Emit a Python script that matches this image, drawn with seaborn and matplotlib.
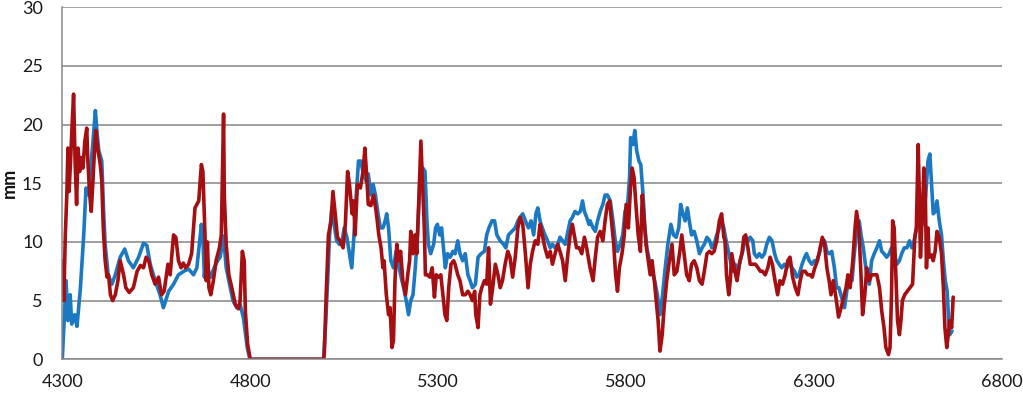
# Two displacement traces (mm) along position 4300-6800
import pandas as pd
import matplotlib
matplotlib.use("Agg")
import matplotlib.pyplot as plt
import seaborn as sns

# blue trace
blue_x = [4300, 4304, 4310, 4315, 4321, 4325, 4333, 4339, 4348, 4357, 4363, 4370, 4374, 4381, 4388,
          4392, 4397, 4405, 4410, 4414, 4422, 4432, 4441, 4454, 4466, 4476, 4489, 4503, 4516, 4525,
          4534, 4547, 4560, 4569, 4583, 4596, 4609, 4623, 4636, 4649, 4658, 4665, 4670, 4674, 4678,
          4683, 4689, 4695, 4704, 4713, 4720, 4724, 4729, 4736, 4745, 4754, 4764, 4773, 4782, 4792,
          4799, 4995, 5000, 5006, 5011, 5017, 5023, 5030, 5037, 5043, 5050, 5057, 5064, 5070, 5075,
          5082, 5088, 5094, 5101, 5108, 5114, 5121, 5127, 5133, 5139, 5146, 5153, 5159, 5163, 5168,
          5174, 5181, 5188, 5194, 5200, 5208, 5215, 5221, 5227, 5233, 5239, 5245, 5252, 5259, 5265,
          5270, 5274, 5280, 5288, 5293, 5298, 5304, 5309, 5314, 5319, 5325, 5332, 5339, 5345, 5352,
          5358, 5365, 5372, 5379, 5385, 5391, 5399, 5406, 5414, 5423, 5429, 5435, 5443, 5450, 5456,
          5465, 5474, 5480, 5487, 5496, 5505, 5512, 5518, 5525, 5532, 5540, 5547, 5554, 5560, 5565,
          5571, 5577, 5584, 5591, 5598, 5604, 5611, 5618, 5624, 5631, 5638, 5645, 5651, 5657, 5664,
          5671, 5678, 5684, 5689, 5695, 5701, 5704, 5712, 5718, 5724, 5731, 5738, 5744, 5750, 5758,
          5765, 5771, 5777, 5784, 5791, 5797, 5804, 5809, 5812, 5818, 5823, 5828, 5834, 5839, 5845,
          5850, 5855, 5862, 5869, 5876, 5883, 5890, 5897, 5904, 5911, 5919, 5926, 5933, 5940, 5945,
          5951, 5957, 5963, 5968, 5974, 5981, 5988, 5995, 6002, 6008, 6015, 6022, 6028, 6034, 6041,
          6048, 6054, 6060, 6063, 6070, 6077, 6083, 6090, 6097, 6103, 6110, 6117, 6124, 6130, 6137,
          6141, 6148, 6154, 6161, 6168, 6174, 6181, 6188, 6195, 6201, 6207, 6214, 6221, 6228, 6234,
          6241, 6248, 6254, 6260, 6268, 6275, 6280, 6287, 6294, 6301, 6307, 6314, 6321, 6328, 6334,
          6340, 6347, 6354, 6360, 6366, 6373, 6381, 6387, 6393, 6401, 6407, 6414, 6420, 6425, 6431,
          6440, 6447, 6453, 6460, 6467, 6474, 6480, 6486, 6493, 6500, 6506, 6512, 6520, 6527, 6533,
          6540, 6547, 6554, 6560, 6566, 6571, 6577, 6584, 6591, 6597, 6603, 6608, 6612, 6617, 6622,
          6627, 6633, 6639, 6644, 6649, 6654, 6658, 6661, 6667]
blue_mm = [0, 2.7, 6.7, 3.3, 5.5, 3.0, 3.8, 2.8, 6.0, 10.6, 14.6, 14.0, 15.8, 18.3, 21.2,
           19.5, 17.8, 16.9, 12.6, 9.8, 7.2, 6.4, 7.2, 8.7, 9.4, 8.4, 7.8, 8.7, 9.9, 9.7,
           8.1, 6.7, 5.5, 4.4, 5.8, 6.4, 7.2, 7.5, 7.7, 7.2, 7.8, 10.0, 11.5, 10.3, 7.0,
           8.9, 7.5, 7.0, 7.8, 8.4, 8.7, 9.5, 10.5, 7.8, 6.4, 5.0, 4.4, 4.7, 3.5, 1.0,
           0, 0, 2.7, 6.7, 10.6, 12.9, 11.5, 10.1, 9.8, 9.8, 11.2, 10.4, 9.0, 7.8, 10.1,
           14.0, 16.9, 16.9, 15.8, 15.2, 15.8, 14.0, 14.9, 14.0, 12.6, 11.2, 11.2, 11.8, 12.4, 11.2,
           8.4, 7.8, 9.2, 8.1, 7.2, 6.1, 5.0, 3.8, 5.0, 5.5, 7.8, 10.6, 15.8, 16.3, 16.0,
           11.8, 9.8, 9.0, 9.8, 11.2, 11.5, 10.6, 11.2, 9.5, 7.8, 9.0, 8.7, 9.2, 9.0, 10.1,
           9.0, 8.4, 9.0, 7.2, 6.7, 6.1, 6.4, 8.7, 9.0, 9.2, 10.6, 11.2, 11.8, 11.8, 10.6,
           10.1, 9.8, 9.5, 10.6, 10.9, 11.2, 11.8, 12.1, 12.4, 11.8, 11.2, 11.8, 10.6, 12.4, 12.9,
           11.8, 11.2, 10.6, 10.1, 9.5, 9.8, 9.5, 9.8, 10.4, 10.1, 9.8, 10.9, 11.8, 12.1, 12.6,
           12.4, 12.6, 13.5, 12.6, 12.1, 11.5, 11.8, 11.2, 10.9, 11.8, 12.6, 13.2, 14.0, 14.0, 13.5,
           11.8, 10.1, 9.2, 9.8, 10.6, 12.6, 13.2, 15.5, 18.9, 18.3, 19.5, 17.8, 16.9, 16.6, 14.0,
           11.2, 9.5, 8.4, 7.5, 6.7, 5.5, 3.8, 5.5, 7.8, 9.8, 11.5, 10.6, 10.4, 11.2, 13.2,
           12.4, 11.8, 12.9, 11.8, 10.6, 10.9, 10.1, 9.0, 9.5, 9.8, 10.4, 10.1, 9.5, 9.8, 10.6,
           11.2, 11.8, 11.2, 10.6, 9.5, 8.4, 7.5, 8.1, 7.2, 8.4, 9.2, 10.4, 10.1, 10.4, 10.1,
           9.0, 8.7, 9.0, 8.7, 9.0, 9.8, 10.4, 10.1, 9.0, 8.4, 8.1, 7.8, 8.1, 7.8, 8.4,
           7.8, 7.5, 7.0, 7.2, 8.1, 8.7, 9.0, 8.4, 8.1, 8.4, 8.4, 9.0, 10.1, 10.1, 9.2,
           9.0, 9.2, 7.8, 6.1, 6.1, 5.3, 4.4, 5.8, 6.7, 6.7, 9.0, 11.2, 11.8, 10.6, 9.5,
           7.2, 6.4, 8.4, 9.0, 9.5, 10.1, 9.2, 9.0, 8.7, 9.0, 9.5, 9.2, 8.1, 8.4, 9.0,
           9.5, 9.5, 10.1, 9.5, 10.1, 10.9, 11.8, 11.2, 11.8, 14.0, 16.9, 17.5, 15.2, 12.4, 12.6,
           13.5, 11.8, 10.6, 8.4, 6.7, 5.8, 3.3, 2.1, 2.4]

# red trace
red_x = [4300, 4301, 4304, 4308, 4312, 4315, 4318, 4322, 4325, 4330, 4334, 4338, 4342, 4346, 4351,
         4355, 4360, 4365, 4368, 4373, 4377, 4382, 4386, 4389, 4395, 4401, 4405, 4409, 4414, 4419,
         4423, 4428, 4434, 4441, 4448, 4454, 4463, 4469, 4478, 4489, 4499, 4508, 4516, 4523, 4530,
         4538, 4547, 4556, 4564, 4571, 4581, 4587, 4596, 4602, 4609, 4616, 4622, 4628, 4636, 4644,
         4653, 4663, 4670, 4674, 4679, 4683, 4686, 4690, 4695, 4702, 4709, 4718, 4723, 4729, 4731,
         4736, 4743, 4751, 4760, 4769, 4773, 4779, 4784, 4787, 4793, 4800, 4995, 4997, 5002, 5008,
         5015, 5020, 5026, 5032, 5039, 5047, 5053, 5059, 5064, 5071, 5075, 5079, 5085, 5093, 5100,
         5105, 5110, 5114, 5121, 5128, 5135, 5142, 5148, 5153, 5156, 5162, 5168, 5172, 5177, 5181,
         5185, 5190, 5195, 5200, 5206, 5213, 5219, 5224, 5227, 5233, 5238, 5243, 5249, 5254, 5258,
         5263, 5266, 5271, 5278, 5284, 5290, 5295, 5301, 5307, 5313, 5318, 5323, 5328, 5334, 5341,
         5345, 5352, 5358, 5365, 5372, 5379, 5385, 5391, 5397, 5400, 5406, 5411, 5416, 5423, 5429,
         5434, 5439, 5445, 5452, 5459, 5465, 5471, 5478, 5485, 5491, 5498, 5505, 5512, 5518, 5525,
         5532, 5539, 5545, 5551, 5558, 5565, 5571, 5577, 5584, 5591, 5598, 5604, 5611, 5618, 5624,
         5631, 5638, 5645, 5651, 5657, 5662, 5668, 5675, 5682, 5689, 5695, 5701, 5704, 5712, 5718,
         5724, 5731, 5738, 5744, 5750, 5756, 5761, 5767, 5772, 5777, 5782, 5789, 5795, 5800, 5806,
         5811, 5816, 5821, 5826, 5832, 5838, 5843, 5848, 5853, 5859, 5864, 5869, 5875, 5880, 5885,
         5890, 5896, 5901, 5908, 5915, 5922, 5928, 5935, 5942, 5948, 5954, 5961, 5968, 5974, 5981,
         5988, 5995, 6002, 6008, 6015, 6022, 6028, 6034, 6041, 6048, 6054, 6060, 6063, 6067, 6073,
         6077, 6081, 6089, 6095, 6101, 6108, 6113, 6118, 6124, 6130, 6137, 6144, 6151, 6157, 6163,
         6170, 6177, 6183, 6189, 6196, 6203, 6209, 6216, 6223, 6230, 6236, 6243, 6250, 6257, 6263,
         6269, 6276, 6283, 6289, 6295, 6302, 6309, 6316, 6322, 6328, 6334, 6340, 6345, 6351, 6358,
         6365, 6372, 6379, 6385, 6390, 6396, 6403, 6409, 6413, 6419, 6424, 6429, 6435, 6440, 6447,
         6453, 6460, 6467, 6474, 6480, 6486, 6491, 6498, 6502, 6506, 6509, 6513, 6518, 6522, 6527,
         6531, 6535, 6541, 6548, 6555, 6562, 6568, 6572, 6577, 6580, 6583, 6589, 6592, 6596, 6599,
         6603, 6606, 6612, 6617, 6622, 6627, 6633, 6639, 6644, 6648, 6653, 6657, 6661, 6666, 6670]
red_mm = [5.0, 8.4, 5.0, 10.6, 14.0, 18.0, 14.3, 16.9, 19.2, 22.6, 16.9, 13.2, 18.0, 16.0, 17.2,
          16.3, 18.6, 19.7, 16.9, 14.0, 12.6, 15.5, 18.0, 19.5, 17.8, 16.6, 15.2, 11.2, 8.4, 7.0,
          7.2, 5.5, 5.0, 5.5, 6.7, 8.4, 7.2, 6.1, 5.7, 6.1, 7.5, 8.0, 7.8, 8.7, 8.4,
          7.2, 6.4, 7.0, 5.5, 5.8, 8.1, 7.2, 10.6, 10.4, 8.4, 7.8, 8.2, 7.8, 8.1, 9.0,
          12.9, 13.5, 16.6, 16.0, 11.2, 6.7, 10.0, 6.1, 5.5, 6.7, 8.4, 9.5, 10.6, 20.9, 14.0,
          9.8, 7.2, 6.1, 4.7, 4.3, 5.0, 9.2, 8.4, 4.1, 1.3, 0, 0, 0.4, 5.5, 10.6,
          11.8, 14.3, 12.4, 10.4, 10.1, 9.5, 11.5, 16.0, 14.9, 12.4, 13.5, 10.6, 14.9, 14.6, 16.0,
          18.0, 15.5, 13.2, 13.1, 14.0, 12.6, 10.6, 9.5, 7.8, 8.4, 5.5, 3.8, 4.4, 1.0, 1.6,
          6.7, 9.8, 8.4, 9.2, 6.7, 5.5, 7.2, 8.4, 10.9, 9.0, 10.6, 9.0, 14.0, 18.6, 15.2,
          11.2, 7.2, 7.2, 7.0, 7.8, 5.3, 7.2, 7.0, 7.2, 5.3, 3.8, 3.3, 6.1, 8.1, 8.4,
          8.1, 7.2, 6.7, 5.5, 5.5, 5.8, 5.5, 5.0, 5.8, 3.8, 2.7, 5.5, 6.1, 6.7, 6.4,
          9.5, 4.7, 6.1, 8.1, 7.2, 6.1, 6.7, 8.1, 9.2, 8.7, 7.0, 8.7, 11.2, 12.1, 11.5,
          9.0, 6.1, 8.1, 9.2, 10.1, 9.8, 11.5, 10.6, 9.5, 8.7, 9.2, 8.1, 9.0, 9.8, 9.2,
          8.4, 6.7, 9.0, 10.6, 11.5, 10.6, 9.5, 9.5, 9.0, 10.4, 9.5, 8.4, 7.8, 6.7, 8.7,
          10.4, 10.9, 10.1, 11.8, 13.2, 13.5, 11.8, 9.8, 7.2, 5.8, 7.8, 9.0, 10.6, 13.2, 11.2,
          14.3, 16.3, 15.5, 13.2, 10.6, 9.2, 14.0, 11.8, 9.8, 8.4, 7.2, 8.4, 6.7, 5.0, 3.3,
          0.7, 2.1, 4.4, 6.7, 8.4, 9.8, 7.2, 7.5, 9.0, 10.6, 9.0, 7.2, 6.7, 8.1, 8.4,
          7.8, 6.7, 6.4, 7.5, 9.0, 9.2, 9.0, 9.2, 10.1, 11.8, 12.4, 10.4, 10.1, 7.2, 5.5,
          6.7, 9.0, 7.5, 6.7, 8.1, 9.0, 10.4, 10.6, 9.5, 8.1, 8.1, 8.1, 7.8, 7.5, 7.5,
          7.2, 7.8, 8.7, 8.1, 6.7, 5.5, 6.7, 6.4, 7.2, 8.4, 8.7, 7.0, 6.1, 5.5, 6.7,
          7.5, 7.5, 7.2, 7.2, 7.0, 7.8, 8.4, 9.5, 10.4, 9.8, 7.8, 6.7, 5.5, 6.7, 5.3,
          3.6, 4.4, 5.3, 6.1, 7.2, 6.1, 8.4, 11.2, 12.6, 11.2, 7.8, 3.8, 5.5, 7.8, 6.7,
          7.2, 7.2, 7.2, 6.1, 4.1, 2.7, 1.0, 0.4, 1.0, 5.5, 11.8, 11.2, 6.7, 3.3, 2.1,
          3.3, 5.0, 5.5, 5.8, 6.1, 6.4, 10.4, 11.2, 18.3, 14.0, 8.7, 13.2, 16.3, 14.0, 7.8,
          11.2, 8.7, 8.9, 8.4, 9.2, 10.9, 10.4, 9.0, 6.1, 2.7, 1.0, 2.1, 3.3, 2.7, 5.3]

x_ticks = [4300, 4800, 5300, 5800, 6300, 6800]
y_ticks = [0, 5, 10, 15, 20, 25, 30]

blue_df = pd.DataFrame({"x": blue_x, "mm": blue_mm})
red_df = pd.DataFrame({"x": red_x, "mm": red_mm})

sns.set_style("white")
plt.rcParams["font.family"] = ["Lato", "DejaVu Sans"]

fig = plt.figure(figsize=(10.23, 3.93), dpi=100)
ax = fig.add_axes([0.0609, 0.0858, 0.9186, 0.8956])

sns.lineplot(data=blue_df, x="x", y="mm", color="#1b78c2", linewidth=2.6,
             estimator=None, sort=False, ax=ax)
sns.lineplot(data=red_df, x="x", y="mm", color="#a60f12", linewidth=2.6,
             estimator=None, sort=False, ax=ax)

ax.set_xlim(4300, 6800)
ax.set_ylim(0, 30)
ax.set_xticks(x_ticks)
ax.set_yticks(y_ticks)
ax.set_xlabel("")
ax.set_ylabel("")

ax.yaxis.grid(True, color="#868686", linewidth=1.1)
ax.xaxis.grid(False)
ax.set_axisbelow(True)

for side in ["top", "right"]:
    ax.spines[side].set_visible(False)
for side in ["left", "bottom"]:
    ax.spines[side].set_color("#868686")
    ax.spines[side].set_linewidth(1.1)

ax.tick_params(axis="x", direction="inout", length=11, width=1.1, color="#868686",
               pad=5, labelsize=13, labelcolor="#1a1a1a")
ax.tick_params(axis="y", length=0, pad=14, labelsize=13, labelcolor="#1a1a1a")

fig.text(0.009, 0.535, "mm", rotation=90, ha="center", va="center",
         fontsize=13, fontweight="bold", color="#111111")

fig.savefig("out.png", dpi=100)
